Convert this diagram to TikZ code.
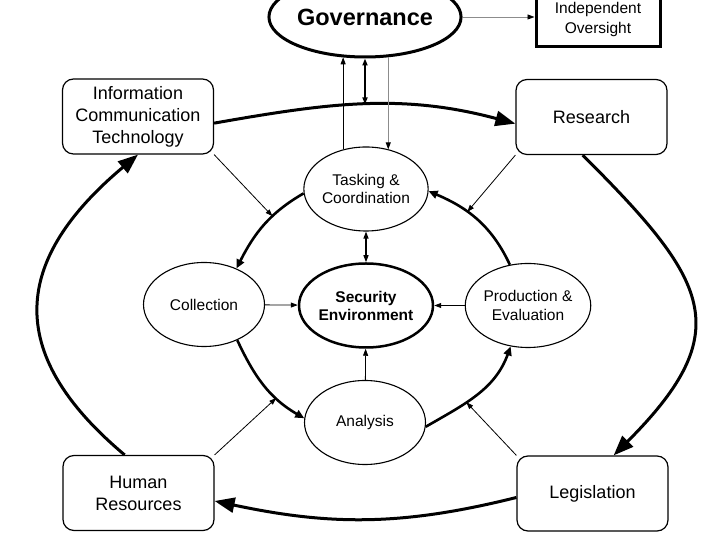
\documentclass[tikz,border=0pt]{standalone}
\usepackage{fontspec}
\setmainfont{Liberation Sans}
\usetikzlibrary{shapes.geometric,arrows.meta}
\begin{document}
\begin{tikzpicture}
[x=1pt,y=1pt,
  ringnode/.style={shape=ellipse,draw,line width=1.1pt,inner sep=0pt,
    minimum width=121pt,minimum height=84pt,align=center,
    font=\fontsize{15.5}{18.5}\selectfont},
  boxnode/.style={shape=rectangle,draw,line width=1.2pt,rounded corners=11pt,
    minimum width=151pt,minimum height=75pt,align=center,
    font=\fontsize{18}{22}\selectfont},
  outerline/.style={line width=3pt,-{Triangle[length=20pt,width=15pt]}},
  innerline/.style={line width=2.6pt,-{Triangle[length=9pt,width=8pt]}},
  thinline/.style={line width=0.8pt,-{Triangle[length=7pt,width=5pt]}},
  twoway/.style={line width=1.1pt,{Triangle[length=7pt,width=5pt]}-{Triangle[length=7pt,width=5pt]}},
  greyline/.style={line width=0.9pt,draw=black!45,-{Triangle[length=7pt,width=5pt,black]}}]
\useasboundingbox (0,0) rectangle (720,540);
%% nodes or vertices
\node (gov) at (365,523) [ringnode,line width=3pt,minimum width=170pt,minimum height=80pt,
  font=\fontsize{23.5}{26}\selectfont\bfseries] {Governance};
\node (ovs) at (598,520.5) [draw,line width=3pt,minimum width=124pt,minimum height=55pt,
  align=center,font=\fontsize{15.5}{20}\selectfont] {Independent\\Oversight};
\foreach \nodename/\x/\y/\nodetext in {
  ict/138/423.5/{Information\\Communication\\Technology}, rs/591.5/423/Research,
  hr/138.5/47/{Human\\Resources}, lg/592.5/46.5/Legislation}
{
  \node (\nodename) at (\x,\y) [boxnode] {\nodetext};
}
\foreach \nodename/\x/\y/\nodetext in {
  tc/366/351/{Tasking \&\\Coordination}, col/204/235.5/Collection,
  pe/528/234.5/{Production \&\\Evaluation}, an/365/117.5/Analysis}
{
  \node (\nodename) at (\x,\y) [ringnode] {\nodetext};
}
\node (se) at (366,234.5) [ringnode,line width=2.5pt,
  font=\fontsize{15.5}{18}\selectfont\bfseries] {Security\\Environment};
%% outer ring
\draw[outerline] (ict.-5) to[out=10,in=165] coordinate[pos=0.5] (topmid) (rs.185);
\draw[outerline] (rs.257) to[out=-45,in=45,looseness=1.5] (lg.61);
\draw[outerline] (lg.183) to[out=194,in=348] (hr.-6);
\draw[outerline] (hr.110) to[out=140,in=220,looseness=1.37] (ict.south);
%% inner ring
\draw[innerline] (tc.184) to[out=210,in=63] coordinate[pos=0.37] (ia) (col.48);
\draw[innerline] (col.-47) to[out=295,in=150] coordinate[pos=0.68] (ha) (an.176);
\draw[innerline] (an.-4) to[out=30,in=250] coordinate[pos=0.38] (la) (pe.247);
\draw[innerline] (pe.114) to[out=115,in=337] coordinate[pos=0.62] (ra) (tc.-2);
%% thin links
\path
\foreach \startnode/\endnode in {ict.south east/ia, rs.south west/ra,
  hr.north east/ha, lg.north west/la, col/se, pe/se, an/se} {
  (\startnode) edge[thinline] (\endnode)
};
\draw[twoway] (tc) -- (se);
\draw[twoway,line width=2.5pt] (gov.south) -- (gov.south |- topmid);
\draw[thinline] (tc.120) -- (tc.120 |- gov.240);
\draw[greyline] (gov.-60) -- (gov.-60 |- tc.60);
\draw[greyline] (gov.east) -- (gov.east -| ovs.west);
\end{tikzpicture}
\end{document}
